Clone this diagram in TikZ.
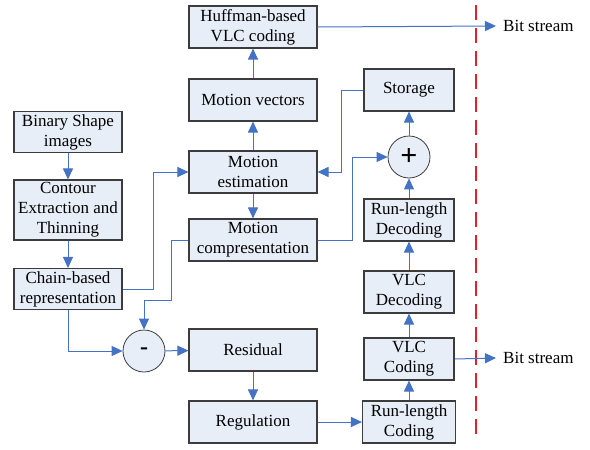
\documentclass[tikz,border=0pt]{standalone}
\usepackage{fontspec}
\setmainfont{Liberation Serif}
\usetikzlibrary{arrows.meta}
\definecolor{boxfill}{RGB}{232,238,248}
\definecolor{boxline}{RGB}{60,60,60}
\definecolor{flowblue}{RGB}{68,114,196}
\definecolor{cutred}{RGB}{230,30,40}

\begin{document}
\begin{tikzpicture}[x=1pt, y=-1pt,
  every node/.style = {font=\fontsize{17}{20}\selectfont, align=center},
  blk/.style = {shape=rectangle, draw=boxline, fill=boxfill,
    line width=1.1pt, inner sep=1pt},
  leftblk/.style = {blk, minimum width=108pt, minimum height=41pt},
  midblk/.style = {blk, minimum width=128pt, minimum height=42pt},
  rightblk/.style = {blk, minimum width=90pt, minimum height=42pt},
  sumnode/.style = {shape=circle, draw=boxline, fill=boxfill,
    line width=0.8pt, minimum size=42pt, inner sep=0pt},
  flow/.style = {draw=flowblue, line width=1pt,
    -{Triangle[length=11pt, width=10pt]}}]
  \useasboundingbox (0,0) rectangle (590,450);

  % left column
  \node[leftblk] (shape) at (68,132) {Binary Shape\\ images};
  \node[leftblk, minimum height=60pt] (contour) at (68,210) {Contour\\ Extraction and\\ Thinning};
  \node[leftblk] (chain) at (68,289) {Chain-based\\ representation};
  \node[sumnode] (minus) at (144,351) {\fontsize{24}{24}\selectfont\textbf{-}};

  % middle column
  \node[midblk] (huff) at (253,27) {Huffman-based\\ VLC coding};
  \node[midblk] (vec) at (253,100) {Motion vectors};
  \node[midblk] (est) at (253,172) {Motion\\ estimation};
  \node[midblk] (comp) at (253,240) {Motion\\ compresentation};
  \node[midblk] (resid) at (253,350) {Residual};
  \node[midblk] (reg) at (253,422) {Regulation};

  % right column
  \node[rightblk] (store) at (409,90) {Storage};
  \node[sumnode] (plus) at (409,157) {\fontsize{30}{30}\selectfont\textbf{+}};
  \node[rightblk] (rld) at (409,220) {Run-length\\ Decoding};
  \node[rightblk] (vlcd) at (409,292) {VLC\\ Decoding};
  \node[rightblk] (vlcc) at (409,359) {VLC\\ Coding};
  \node[rightblk, minimum width=93pt] (rlc) at (409,422) {Run-length\\ Coding};

  % channel
  \draw[cutred, line width=2.5pt, dash pattern=on 15pt off 8pt] (476,5) -- (476,440);
  \node[anchor=west, inner sep=0pt] (bits1) at (503,26) {Bit stream};
  \node[anchor=west, inner sep=0pt] (bits2) at (503,358) {Bit stream};

  \draw[flow] (shape) -- (contour);
  \draw[flow] (contour) -- (chain);
  \draw[flow] (chain.east) -- ++(31,0) |- (est.west);
  \draw[flow] (chain.south) |- (minus.west);
  \draw[flow] (comp.west) -| ++(-17,60) -| (minus.north);
  \draw[flow] (minus) -- (resid);
  \draw[flow] (resid) -- (reg);
  \draw[flow] (reg) -- (rlc);
  \draw[flow] (rlc) -- (vlcc);
  \draw[flow] (vlcc) -- (vlcd);
  \draw[flow] (vlcd) -- (rld);
  \draw[flow] (rld) -- (plus);
  \draw[flow] (plus) -- (store);
  \draw[flow] (store.west) -- ++(-22,0) |- (est.east);
  \draw[flow] (comp.east) -- ++(35,0) |- (plus.west);
  \draw[flow] (est) -- (comp);
  \draw[flow] (est) -- (vec);
  \draw[flow] (vec) -- (huff);
  \draw[flow] (huff.east) -- (bits1.west -| 496,0);
  \draw[flow] (vlcc.east) -- (bits2.west -| 496,0);
\end{tikzpicture}
\end{document}
